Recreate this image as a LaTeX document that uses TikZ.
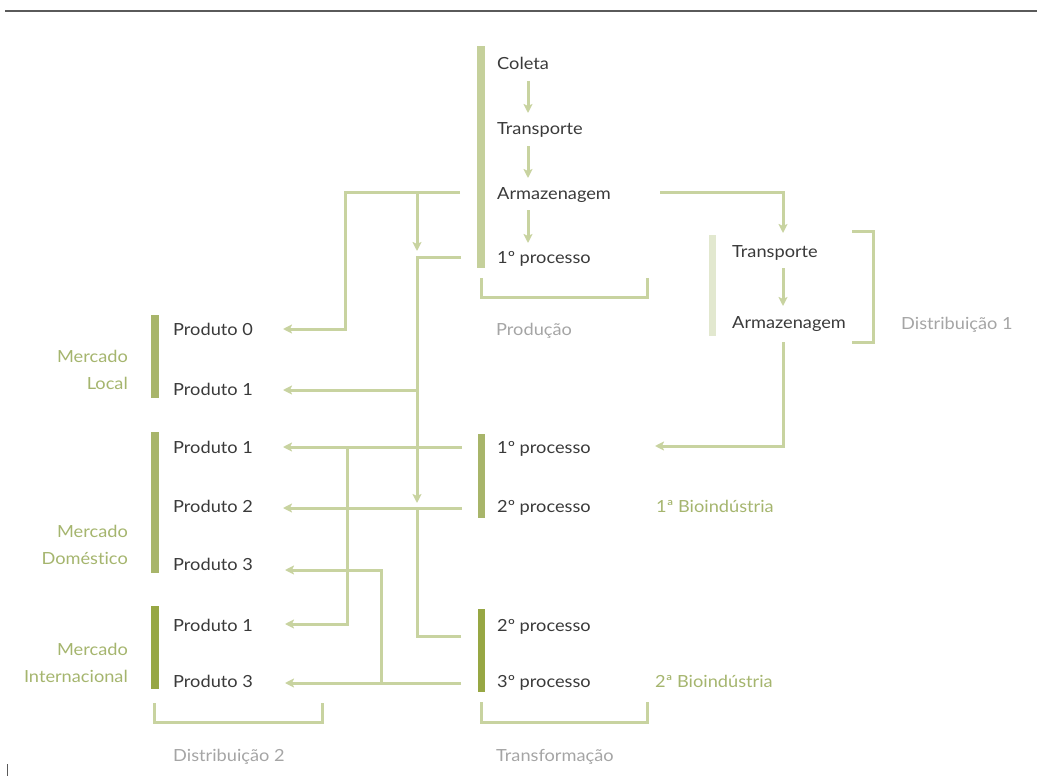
\documentclass[tikz,border=0pt]{standalone}
\usepackage{fontspec}
\setmainfont{Lato}[FakeStretch=1.09, Ligatures={CommonOff,ContextualOff}]
\usetikzlibrary{arrows.meta}
\definecolor{lineC}{RGB}{200,211,160}
\definecolor{barProd}{RGB}{197,208,155}
\definecolor{barDone}{RGB}{226,232,207}
\definecolor{barMid}{RGB}{168,181,106}
\definecolor{barDark}{RGB}{151,167,68}
\definecolor{greenT}{RGB}{165,181,110}
\definecolor{grayT}{RGB}{165,165,165}
\definecolor{darkT}{RGB}{58,58,58}
\definecolor{topC}{RGB}{90,90,90}
\begin{document}
\begin{tikzpicture}[x=1pt,y=-1pt,
  conn/.style={draw=lineC, line width=3pt, line join=miter},
  arr/.style={conn, -{Stealth[length=9pt,width=9pt,inset=2pt]}},
  txt/.style={anchor=base west, inner sep=0pt, font=\fontsize{16.7}{20}\selectfont, text=darkT},
  graytxt/.style={txt, text=grayT},
  greentxt/.style={txt, text=greenT},
  mlabel/.style={anchor=east, inner sep=0pt, align=right, text=greenT, font=\fontsize{16.7}{27}\selectfont}]
\useasboundingbox (0,0) rectangle (1037,776);
% top rule and stray tick
\draw[topC, line width=1.3pt] (5,11) -- (1037,11);
\draw[topC, line width=1pt] (7,764) -- (7,776);
% bars
\fill[barProd] (477,46) rectangle (485,268);
\fill[barDone] (709,235) rectangle (716,336);
\fill[barMid] (151,315) rectangle (159,398);
\fill[barMid] (151,432) rectangle (159,573);
\fill[barDark] (151,606) rectangle (159,689);
\fill[barMid] (478,434) rectangle (485,518);
\fill[barDark] (478,609) rectangle (485,692);
% texts: production
\node[txt] (coleta) at (497,70) {Coleta};
\node[txt] (transP) at (497,134) {Transporte};
\node[txt] (armP) at (497,199) {Armazenagem};
\node[txt] (procP) at (497,263) {1º processo};
\node[graytxt] (producao) at (496,335) {Produção};
% distribution 1
\node[txt] (transD) at (732,257) {Transporte};
\node[txt] (armD) at (732,328) {Armazenagem};
\node[graytxt] (dist1) at (901,329) {Distribuição 1};
% products
\node[txt] (pL0) at (173,335) {Produto 0};
\node[txt] (pL1) at (173,395) {Produto 1};
\node[txt] (pD1) at (173,453) {Produto 1};
\node[txt] (pD2) at (173,512) {Produto 2};
\node[txt] (pD3) at (173,570) {Produto 3};
\node[txt] (pI1) at (173,631) {Produto 1};
\node[txt] (pI3) at (173,687) {Produto 3};
\node[mlabel] (mLocal) at (128,369.5) {Mercado\\Local};
\node[mlabel] (mDom) at (128,544.5) {Mercado\\Doméstico};
\node[mlabel] (mInt) at (128,662.5) {Mercado\\Internacional};
\node[graytxt] (dist2) at (173,761) {Distribuição 2};
% bioindustries
\node[txt] (b1p1) at (497,453) {1º processo};
\node[txt] (b1p2) at (497,512) {2º processo};
\node[greentxt] (bio1) at (656,512) {1ª Bioindústria};
\node[txt] (b2p2) at (497,631) {2º processo};
\node[txt] (b2p3) at (497,687) {3º processo};
\node[greentxt] (bio2) at (655,687) {2ª Bioindústria};
\node[graytxt] (transf) at (496,761) {Transformação};
% coordinates
\coordinate (c1a) at (528,81);  \coordinate (c1b) at (528,113);
\coordinate (c2a) at (528,146); \coordinate (c2b) at (528,178);
\coordinate (c3a) at (528,210); \coordinate (c3b) at (528,243);
\coordinate (armPR) at (660,192); \coordinate (transDT) at (783,233);
\coordinate (transDB) at (783,268); \coordinate (armDT) at (783,306);
\coordinate (armDB) at (783,342); \coordinate (b1p1R) at (655,446);
\coordinate (armPL) at (460,192); \coordinate (pL0R) at (283,329);
\coordinate (j417) at (417,192); \coordinate (j417b) at (417,251);
\coordinate (procPL) at (461,257); \coordinate (b1p2J) at (417,503);
\coordinate (pL1J) at (417,390); \coordinate (pL1R) at (283,390);
\coordinate (b1p1L) at (462,447); \coordinate (pD1R) at (283,447);
\coordinate (j347) at (347,447); \coordinate (pI1R) at (285,624);
\coordinate (b1p2L) at (462,508); \coordinate (pD2R) at (283,508);
\coordinate (b2p2L) at (461,636); \coordinate (j417c) at (417,508);
\coordinate (b2p3L) at (461,683); \coordinate (pI3R) at (285,683);
\coordinate (j381) at (381,683); \coordinate (pD3R) at (285,570);
% production chain
\draw[arr] (c1a) -- (c1b);
\draw[arr] (c2a) -- (c2b);
\draw[arr] (c3a) -- (c3b);
% to distribution 1
\draw[arr] (armPR) -| (transDT);
\draw[arr] (transDB) -- (armDT);
\draw[arr] (armDB) |- (b1p1R);
% brackets
\draw[conn] (852,231) -- (873,231) -- (873,342) -- (852,342);
\draw[conn] (481,278) -- (481,297) -- (647,297) -- (647,278);
\draw[conn] (481,702) -- (481,722) -- (647,722) -- (647,702);
\draw[conn] (154,703) -- (154,722) -- (322,722) -- (322,703);
% left network
\draw[arr] (armPL) -- (345,192) -- (345,329) -- (pL0R);
\draw[arr] (j417) -- (j417b);
\draw[arr] (procPL) -| (b1p2J);
\draw[arr] (pL1J) -- (pL1R);
\draw[arr] (b1p1L) -- (pD1R);
\draw[arr] (j347) |- (pI1R);
\draw[arr] (b1p2L) -- (pD2R);
\draw[conn] (b2p2L) -| (j417c);
\draw[arr] (b2p3L) -- (pI3R);
\draw[arr] (j381) |- (pD3R);
\end{tikzpicture}
\end{document}
